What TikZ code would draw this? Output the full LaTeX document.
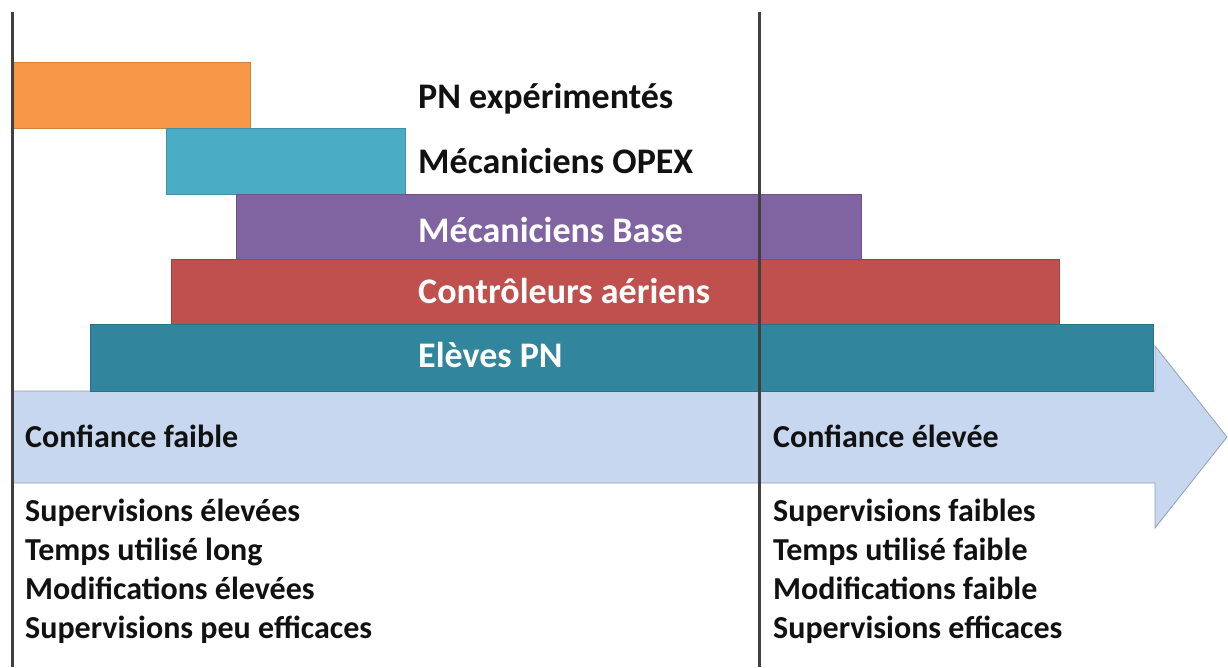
\documentclass[tikz,border=0pt]{standalone}
\usepackage{fontspec}
\setmainfont{Carlito}
\definecolor{cOrange}{HTML}{F79646}
\definecolor{cCyan}{HTML}{4BACC6}
\definecolor{cPurple}{HTML}{8064A2}
\definecolor{cRed}{HTML}{C0504D}
\definecolor{cTeal}{HTML}{31859C}
\definecolor{cArrow}{HTML}{C6D7EF}
\definecolor{cLine}{HTML}{404040}
\definecolor{cText}{HTML}{111111}
\begin{document}
\begin{tikzpicture}[x=1pt,y=-1pt,
  bar/.style={line width=1pt},
  lbl/.style={anchor=base west,inner sep=0pt,font=\fontsize{32}{38}\selectfont\bfseries,text=cText},
  blbl/.style={lbl,font=\fontsize{36}{42}\selectfont\bfseries},
  wlbl/.style={blbl,text=white},
  vline/.style={draw=cLine,line width=3pt}]
\useasboundingbox (0,0) rectangle (1228,667);
% big arrow
\filldraw[fill=cArrow,draw=cArrow!75!black,line width=0.8pt]
  (12,391) -- (1155,391) -- (1155,346) -- (1227,437) -- (1155,528) -- (1155,483) -- (12,483) -- cycle;
% bars
\filldraw[bar,fill=cOrange,draw=cOrange!85!black] (12,62) rectangle (250,128);
\filldraw[bar,fill=cCyan,draw=cCyan!85!black] (166,128) rectangle (405,194);
\filldraw[bar,fill=cPurple,draw=cPurple!85!black] (236,194) rectangle (861,259);
\filldraw[bar,fill=cRed,draw=cRed!85!black] (171,259) rectangle (1059,324);
\filldraw[bar,fill=cTeal,draw=cTeal!85!black] (90,324) rectangle (1153,391);
% labels
\node[blbl] (pn) at (418,108) {PN expérimentés};
\node[blbl] (opex) at (418,173) {Mécaniciens OPEX};
\node[wlbl] (base) at (418,242) {Mécaniciens Base};
\node[wlbl] (ctrl) at (418,303) {Contrôleurs aériens};
\node[wlbl] (eleves) at (418,367) {Elèves PN};
\node[lbl] (cf) at (25,447) {Confiance faible};
\node[lbl] (ce) at (773,447) {Confiance élevée};
\node[lbl] (l1) at (25,521) {Supervisions élevées};
\node[lbl] (l2) at (25,560) {Temps utilisé long};
\node[lbl] (l3) at (25,599) {Modifications élevées};
\node[lbl] (l4) at (25,638) {Supervisions peu efficaces};
\node[lbl] (r1) at (773,521) {Supervisions faibles};
\node[lbl] (r2) at (773,560) {Temps utilisé faible};
\node[lbl] (r3) at (773,599) {Modifications faible};
\node[lbl] (r4) at (773,638) {Supervisions efficaces};
% vertical lines
\draw[vline] (12,12) -- (12,667);
\draw[vline] (759,12) -- (759,667);
\end{tikzpicture}
\end{document}
